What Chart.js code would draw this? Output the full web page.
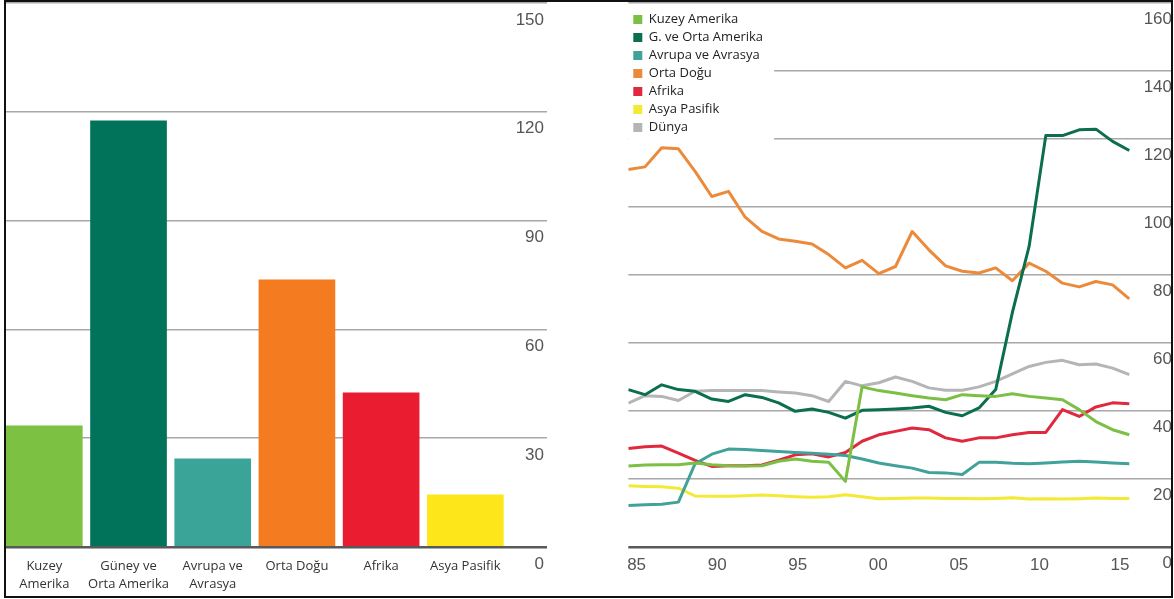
<!DOCTYPE html>
<html lang="tr">
<head>
<meta charset="utf-8">
<title>Rezerv/üretim oranları</title>
<script src="https://cdn.jsdelivr.net/npm/chart.js@4.4.1/dist/chart.umd.min.js"></script>
<style>
  html, body { margin: 0; padding: 0; background: #fff; }
  body { width: 1174px; height: 599px; position: relative; overflow: hidden; }
  #frame {
    position: absolute; left: 4px; top: 0; width: 1169px; height: 598px;
    border: 2px solid #111; box-sizing: border-box; overflow: hidden; background: #fff;
  }
  .panel { position: absolute; top: 0; height: 594px; }
  #left { left: 0; width: 584px; }
  #right { left: 584px; width: 590px; }
</style>
</head>
<body>
<div id="frame">
  <div class="panel" id="left"><canvas id="barChart"></canvas></div>
  <div class="panel" id="right"><canvas id="lineChart"></canvas></div>
</div>
<script>
// Bölgelere göre R/P oranı (yıl)
const regions = [['Kuzey', 'Amerika'], ['Güney ve', 'Orta Amerika'], ['Avrupa ve', 'Avrasya'], ['Orta Doğu'], ['Afrika'], ['Asya Pasifik']];
const regionRatios = [33.4, 117.5, 24.3, 73.7, 42.5, 14.4];
const barColors = ['#7dc143', '#00735a', '#3aa499', '#f47b20', '#e91d2f', '#fde619'];
const barTicks = [0, 30, 60, 90, 120, 150];

// Tarihsel seri
const years = [1985, 1986, 1987, 1988, 1989, 1990, 1991, 1992, 1993, 1994, 1995, 1996, 1997, 1998, 1999, 2000,
               2001, 2002, 2003, 2004, 2005, 2006, 2007, 2008, 2009, 2010, 2011, 2012, 2013, 2014, 2015];
const kuzeyAmerika = [23.8, 24.1, 24.2, 24.2, 24.7, 24.2, 23.9, 23.8, 23.9, 25.2, 25.9, 25.2, 24.9, 19.3, 47.1, 46.0,
                      45.3, 44.5, 43.8, 43.3, 44.8, 44.5, 44.3, 45.1, 44.3, 43.8, 43.3, 40.4, 36.9, 34.5, 33.0];
const gOrtaAmerika = [46.3, 44.8, 47.7, 46.3, 45.8, 43.5, 42.8, 44.8, 44.0, 42.4, 39.9, 40.6, 39.6, 37.9, 40.2, 40.4,
                      40.6, 40.9, 41.4, 39.6, 38.6, 40.9, 46.3, 69.0, 88.4, 121.0, 121.0, 122.7, 122.9, 119.3, 116.6];
const avrupaAvrasya = [12.2, 12.4, 12.6, 13.2, 24.5, 27.3, 28.8, 28.7, 28.4, 28.1, 27.8, 27.6, 27.3, 26.9, 25.9, 24.7,
                       23.9, 23.2, 21.9, 21.8, 21.3, 24.9, 24.9, 24.6, 24.5, 24.7, 25.0, 25.2, 25.0, 24.7, 24.5];
const ortaDogu = [111.0, 111.8, 117.4, 117.1, 110.5, 103.1, 104.6, 97.0, 92.8, 90.6, 89.9, 89.1, 86.0, 82.1, 84.3, 80.4,
                  82.5, 92.8, 87.4, 82.7, 81.1, 80.6, 82.1, 78.3, 83.5, 81.1, 77.6, 76.5, 78.1, 77.1, 73.0];
const afrika = [29.0, 29.5, 29.7, 27.6, 25.5, 23.7, 23.9, 23.9, 24.1, 25.5, 27.1, 27.4, 26.5, 27.8, 31.1, 33.0,
                34.0, 35.0, 34.5, 32.1, 31.1, 32.1, 32.1, 33.0, 33.7, 33.7, 40.4, 38.4, 41.2, 42.4, 42.1];
const asyaPasifik = [18.0, 17.8, 17.7, 17.3, 15.0, 14.9, 14.9, 15.1, 15.3, 15.1, 14.8, 14.6, 14.8, 15.4, 14.8, 14.2,
                     14.3, 14.4, 14.4, 14.3, 14.3, 14.2, 14.3, 14.5, 14.1, 14.2, 14.1, 14.2, 14.4, 14.3, 14.3];
const dunya = [42.3, 44.5, 44.3, 43.1, 45.8, 46.0, 46.0, 46.0, 46.0, 45.6, 45.3, 44.5, 42.8, 48.7, 47.4, 48.3,
               50.0, 48.7, 46.8, 46.1, 46.1, 47.1, 48.7, 50.9, 53.1, 54.3, 54.9, 53.6, 53.8, 52.6, 50.7];
const seriesNames = ['Kuzey Amerika', 'G. ve Orta Amerika', 'Avrupa ve Avrasya', 'Orta Doğu', 'Afrika', 'Asya Pasifik', 'Dünya'];
const seriesColors = ['#7cbf45', '#0b6e4f', '#40a299', '#ec8a3c', '#e0283f', '#f4e934', '#b5b5b7'];
const yearTicks = [1985, 1990, 1995, 2000, 2005, 2010, 2015];
const yearTickLabels = ['85', '90', '95', '00', '05', '10', '15'];
const lineTicks = [0, 20, 40, 60, 80, 100, 120, 140, 160];

Chart.defaults.font.family = '"Liberation Sans", Arial, sans-serif';
Chart.defaults.animation = false;

const numberFont = { family: '"Liberation Sans", Arial, sans-serif', size: 17 };
const textFont = { family: '"Open Sans", sans-serif', size: 13, lineHeight: 1.4 };

function gridColor(ctx) {
    return ctx.tick && ctx.tick.value === 0 ? '#58595b' : '#a8a8a8';
}
function gridWidth(ctx) {
    return ctx.tick && ctx.tick.value === 0 ? 2.5 : 1.5;
}
function noPadding(scale) {
    scale.paddingTop = 0;
    scale.paddingBottom = 0;
    scale.paddingLeft = 0;
    scale.paddingRight = 0;
}

// sol: çubuk grafik
new Chart(document.getElementById('barChart'), {
    type: 'bar',
    data: {
        labels: regions.map((_, i) => i),
        datasets: [{
            data: regionRatios,
            backgroundColor: barColors,
            borderWidth: 0,
            barThickness: 76
        }]
    },
    options: {
        responsive: true,
        maintainAspectRatio: false,
        layout: { padding: { left: 0, right: 43.5, top: 1, bottom: 1 } },
        plugins: { legend: { display: false }, tooltip: { enabled: false } },
        scales: {
            x: {
                type: 'linear',
                offset: false,
                min: -0.455,
                max: 5.964,
                grid: { display: false },
                border: { display: false },
                afterBuildTicks: s => { s.ticks = regions.map((_, i) => ({ value: i })); },
                afterFit: s => { s.height = 48; noPadding(s); },
                ticks: {
                    autoSkip: false,
                    maxRotation: 0,
                    padding: 2,
                    color: '#333',
                    font: textFont,
                    callback: (v, i) => regions[i]
                }
            },
            y: {
                position: 'right',
                min: 0,
                max: 150,
                afterBuildTicks: s => { s.ticks = barTicks.map(v => ({ value: v })); },
                afterFit: s => { s.width = 0; noPadding(s); },
                grid: { color: gridColor, lineWidth: gridWidth, drawTicks: false },
                border: { display: false },
                ticks: { mirror: true, padding: -2.5, labelOffset: 17, color: '#555', font: numberFont }
            }
        }
    }
});

// lejant: beyaz zemin, çizgilerin üstünde
const legendPanel = {
    id: 'legendPanel',
    afterLayout(chart) {
        const lg = chart.legend;
        lg.top = chart.chartArea.top + 5;
        lg.bottom = lg.top + lg.height;
    },
    beforeDatasetsDraw(chart) {
        const lg = chart.legend;
        const area = chart.chartArea;
        const boxes = lg.legendHitBoxes;
        const right = Math.max(...boxes.map(b => b.left + b.width)) + 11;
        const bottom = lg.top + 5 + boxes.length * 18 + 8;
        const ctx = chart.ctx;
        ctx.save();
        ctx.fillStyle = '#fff';
        ctx.fillRect(area.left, area.top + 2, right - area.left, bottom - area.top - 2);
        ctx.restore();
        lg.draw();
    }
};

const seriesData = [kuzeyAmerika, gOrtaAmerika, avrupaAvrasya, ortaDogu, afrika, asyaPasifik, dunya];

// sağ: çizgi grafik
new Chart(document.getElementById('lineChart'), {
    type: 'line',
    data: {
        labels: years,
        datasets: seriesData.map((d, i) => ({
            label: seriesNames[i],
            data: d,
            borderColor: seriesColors[i],
            backgroundColor: seriesColors[i],
            borderWidth: 3,
            borderJoinStyle: 'round',
            pointRadius: 0,
            tension: 0,
            fill: false
        }))
    },
    options: {
        responsive: true,
        maintainAspectRatio: false,
        layout: { padding: { left: 38.3, right: 4, top: 1, bottom: 1 } },
        plugins: {
            tooltip: { enabled: false },
            legend: {
                position: 'chartArea',
                align: 'start',
                labels: {
                    boxWidth: 9,
                    boxHeight: 9,
                    padding: 5,
                    color: '#222',
                    font: { family: '"Open Sans", sans-serif', size: 13 },
                    generateLabels: chart => Chart.defaults.plugins.legend.labels.generateLabels(chart)
                        .map(item => Object.assign(item, { lineWidth: 0 }))
                }
            }
        },
        scales: {
            x: {
                type: 'linear',
                display: false,
                min: 1985,
                max: 2017.797
            },
            x2: {
                type: 'linear',
                position: 'bottom',
                min: 1984.485,
                max: 2018.476,
                grid: { display: false },
                border: { display: false },
                afterBuildTicks: s => { s.ticks = yearTicks.map(v => ({ value: v })); },
                afterFit: s => { s.height = 48; noPadding(s); },
                ticks: {
                    autoSkip: false,
                    maxRotation: 0,
                    padding: 0,
                    color: '#555',
                    font: numberFont,
                    callback: (v, i) => yearTickLabels[i]
                }
            },
            y: {
                position: 'right',
                min: 0,
                max: 160,
                afterBuildTicks: s => { s.ticks = lineTicks.map(v => ({ value: v })); },
                afterFit: s => { s.width = 0; noPadding(s); },
                grid: { color: gridColor, lineWidth: gridWidth, drawTicks: false },
                border: { display: false },
                ticks: { mirror: true, padding: -4, labelOffset: 16.5, color: '#555', font: numberFont }
            }
        }
    },
    plugins: [legendPanel]
});
</script>
</body>
</html>
